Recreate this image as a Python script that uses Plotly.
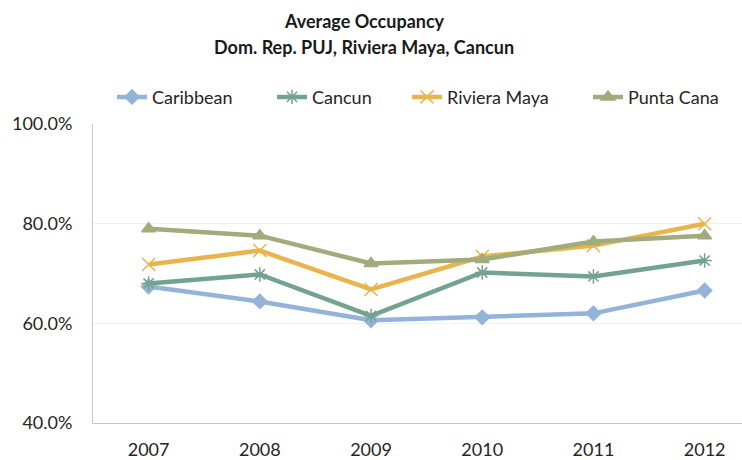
import plotly.graph_objects as go

years = ["2007", "2008", "2009", "2010", "2011", "2012"]
caribbean = [0.674, 0.644, 0.606, 0.612, 0.620, 0.666]
cancun = [0.680, 0.698, 0.615, 0.702, 0.694, 0.726]
riviera = [0.718, 0.746, 0.668, 0.734, 0.756, 0.800]
punta = [0.790, 0.776, 0.720, 0.728, 0.764, 0.776]
title_lines = ["Average Occupancy", "Dom. Rep. PUJ, Riviera Maya, Cancun"]

series = [
    ("Caribbean", caribbean, "#93B3D9", "diamond", 11),
    ("Cancun", cancun, "#72A38F", "asterisk-open", 12),
    ("Riviera Maya", riviera, "#E9B44C", "x-thin-open", 13),
    ("Punta Cana", punta, "#A0AC7C", "triangle-up", 12),
]
# left edge (px) of each legend entry
legend_px = [112, 272, 407, 588]

font = "Lato, 'Open Sans', sans-serif"
L, R, T, B = 93, 0, 124, 35
W, H = 742, 460
pw, ph = W - L - R, H - T - B

fig = go.Figure()
layout_legends = {}
for i, (name, vals, col, sym, sz) in enumerate(series):
    key = "legend" if i == 0 else f"legend{i+1}"
    fig.add_trace(go.Scatter(
        x=list(range(len(years))), y=vals, name=name, mode="lines+markers",
        line=dict(color=col, width=4.5),
        marker=dict(symbol=sym, size=sz, color=col, line=dict(color=col, width=1.5)),
        legend=key, showlegend=True,
    ))
    layout_legends[key] = dict(
        orientation="h", x=(legend_px[i] - L) / pw, xanchor="left",
        y=1 + (T - 97) / ph, yanchor="middle", itemwidth=30,
        font=dict(size=18, color="#262626", family=font), bgcolor="rgba(0,0,0,0)",
    )

title_y_px = [20, 46]
annotations = [
    dict(text=f"<b>{t}</b>", xref="paper", yref="paper",
         x=(364 - L) / pw, y=1 + (T - yp) / ph, xanchor="center", yanchor="middle",
         showarrow=False, font=dict(size=18, color="#1a1a1a", family=font))
    for t, yp in zip(title_lines, title_y_px)
]

fig.update_layout(
    width=W, height=H,
    margin=dict(l=L, r=R, t=T, b=B),
    paper_bgcolor="white", plot_bgcolor="white",
    showlegend=True,
    font=dict(family=font, size=14, color="#404040"),
    annotations=annotations,
    xaxis=dict(range=[-0.5, 5.336], tickmode="array", tickvals=list(range(len(years))),
               ticktext=years, showgrid=False, showline=True, linecolor="#C8C8C8",
               linewidth=1, ticks="", zeroline=False, ticklabelstandoff=10,
               tickfont=dict(size=18, color="#262626")),
    yaxis=dict(range=[0.4, 1.0], tickvals=[0.4, 0.6, 0.8, 1.0], tickformat=".1%",
               showgrid=True, gridcolor="#F0F0F0", showline=True, linecolor="#C8C8C8",
               linewidth=1, ticks="", zeroline=False, ticklabelstandoff=16,
               tickfont=dict(size=18, color="#262626")),
    **layout_legends,
)

fig.write_html("out.html")
